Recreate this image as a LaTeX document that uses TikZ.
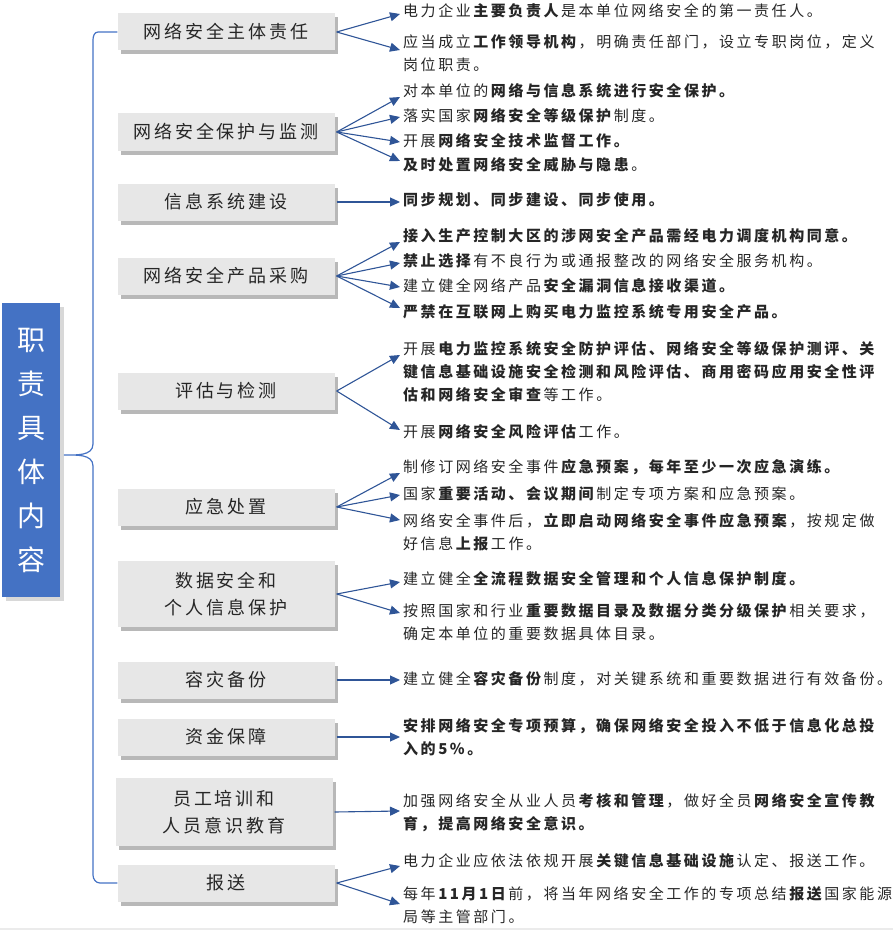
\documentclass[tikz,border=0pt]{standalone}
\usepackage{fontspec}
\usetikzlibrary{arrows.meta,shadows,calc}
\newfontfamily\cjk[LetterSpace=17]{Noto Sans CJK SC}
\newfontfamily\cjkbox[LetterSpace=16]{Noto Sans CJK SC}
\definecolor{arr}{HTML}{2F5597}
\definecolor{blu}{HTML}{4472C4}
\definecolor{boxg}{HTML}{E7E7E7}
\begin{document}
\begin{tikzpicture}[x=1pt,y=-1pt,
  cat/.style={fill=boxg,draw=none,minimum width=217pt,minimum height=37pt,align=center,
    font=\cjkbox\fontsize{18}{27}\selectfont,text=black!85,
    drop shadow={shadow xshift=3pt,shadow yshift=-4pt,fill=black!35,opacity=0.8}},
  txt/.style={anchor=north west,inner sep=0pt,align=left,font=\cjk\fontsize{15}{23}\selectfont,text=black!85},
  arw/.style={draw=arr,line width=1.1pt,-{Triangle[width=9pt,length=10pt]}}]
\useasboundingbox (0,0) rectangle (893,931);
\draw[black!8,line width=2pt] (0,929) -- (893,929);
% main box
\node[fill=blu,minimum width=58pt,minimum height=294pt,inner sep=0pt,align=center,text=white,
  font=\cjk\fontsize{28}{44}\selectfont,
  drop shadow={shadow xshift=4pt,shadow yshift=-4pt,fill=black!30}] (main) at (31,450)
  {职\\责\\具\\体\\内\\容};
% category boxes
\node[cat] (b1) at (226,32) {网络安全主体责任};
\node[cat] (b2) at (226,132) {网络安全保护与监测};
\node[cat] (b3) at (226,202) {信息系统建设};
\node[cat] (b4) at (226,276) {网络安全产品采购};
\node[cat] (b5) at (226,391) {评估与检测};
\node[cat] (b6) at (226,507) {应急处置};
\node[cat,minimum height=66pt] (b7) at (226,594) {数据安全和\\个人信息保护};
\node[cat] (b8) at (226,680) {容灾备份};
\node[cat] (b9) at (226,737) {资金保障};
\node[cat,minimum height=68pt] (b10) at (224,812) {员工培训和\\人员意识教育};
\node[cat] (b11) at (226,883) {报送};
% brace
\coordinate (tip) at (64,455);
\draw[blu,line width=1.2pt] (b1.west) -- (98,32) to[out=180,in=90] (93,40) -- (93,444)
  to[out=-90,in=0] (tip) to[out=0,in=90] (93,466) -- (93,875) to[out=-90,in=180] (100,883) -- (b11.west);
% texts
\newcommand\tx[3]{\node[txt] (#1) at (403,#2) {#3};}
\tx{t1a}{3}{电力企业\textbf{主要负责人}是本单位网络安全的第一责任人。}
\tx{t1b}{34}{应当成立\textbf{工作领导机构}，明确责任部门，设立专职岗位，定义\\岗位职责。}
\tx{t2a}{83}{对本单位的\textbf{网络与信息系统进行安全保护。}}
\tx{t2b}{108}{落实国家\textbf{网络安全等级保护}制度。}
\tx{t2c}{133}{开展\textbf{网络安全技术监督工作。}}
\tx{t2d}{157}{\textbf{及时处置网络安全威胁与隐患}。}
\tx{t3a}{192}{\textbf{同步规划、同步建设、同步使用。}}
\tx{t4a}{228}{\textbf{接入生产控制大区的涉网安全产品需经电力调度机构同意。}}
\tx{t4b}{253}{\textbf{禁止选择}有不良行为或通报整改的网络安全服务机构。}
\tx{t4c}{278}{建立健全网络产品\textbf{安全漏洞信息接收渠道。}}
\tx{t4d}{304}{\textbf{严禁在互联网上购买电力监控系统专用安全产品。}}
\tx{t5a}{341}{开展\textbf{电力监控系统安全防护评估、网络安全等级保护测评、关}\\\textbf{键信息基础设施安全检测和风险评估、商用密码应用安全性评}\\\textbf{估和网络安全审查}等工作。}
\tx{t5b}{424}{开展\textbf{网络安全风险评估}工作。}
\tx{t6a}{459}{制修订网络安全事件\textbf{应急预案，每年至少一次应急演练。}}
\tx{t6b}{486}{国家\textbf{重要活动、会议期间}制定专项方案和应急预案。}
\tx{t6c}{513}{网络安全事件后，\textbf{立即启动网络安全事件应急预案}，按规定做\\好信息\textbf{上报}工作。}
\tx{t7a}{571}{建立健全\textbf{全流程数据安全管理和个人信息保护制度。}}
\tx{t7b}{603}{按照国家和行业\textbf{重要数据目录及数据分类分级保护}相关要求，\\确定本单位的重要数据具体目录。}
\tx{t8a}{671}{建立健全\textbf{容灾备份}制度，对关键系统和重要数据进行有效备份。}
\tx{t9a}{718}{\textbf{安排网络安全专项预算，确保网络安全投入不低于信息化总投}\\\textbf{入的5\%。}}
\tx{t10a}{793}{加强网络安全从业人员\textbf{考核和管理}，做好全员\textbf{网络安全宣传教}\\\textbf{育，提高网络安全意识。}}
\tx{t11a}{853}{电力企业应依法依规开展\textbf{关键信息基础设施}认定、报送工作。}
\tx{t11b}{886}{每年\textbf{11月1日}前，将当年网络安全工作的专项总结\textbf{报送}国家能源\\局等主管部门。}
% arrows
\newcommand\ar[3]{\draw[arw] ([xshift=2pt]#1.east) -- ([xshift=-3pt,yshift=-#3pt]#2.north west);}
\ar{b1}{t1a}{11} \ar{b1}{t1b}{16}
\ar{b2}{t2a}{14} \ar{b2}{t2b}{9} \ar{b2}{t2c}{9} \ar{b2}{t2d}{4}
\ar{b3}{t3a}{10}
\ar{b4}{t4a}{14} \ar{b4}{t4b}{10} \ar{b4}{t4c}{9} \ar{b4}{t4d}{4}
\ar{b5}{t5a}{14} \ar{b5}{t5b}{6}
\ar{b6}{t6a}{14} \ar{b6}{t6b}{9} \ar{b6}{t6c}{7}
\ar{b7}{t7a}{11} \ar{b7}{t7b}{10}
\ar{b8}{t8a}{9} \ar{b9}{t9a}{19} \ar{b10}{t10a}{18}
\ar{b11}{t11a}{13} \ar{b11}{t11b}{18}
\end{tikzpicture}
\end{document}
